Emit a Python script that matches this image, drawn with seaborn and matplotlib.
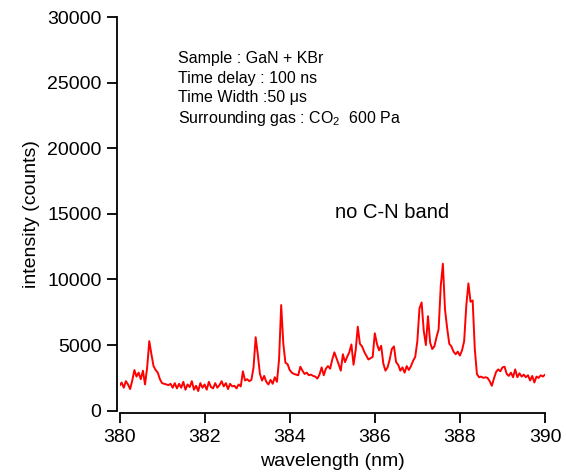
import numpy as np
import pandas as pd
import matplotlib
matplotlib.use("Agg")
import matplotlib.pyplot as plt
import seaborn as sns

# ---- data ----
intensity = [
    1900, 2150, 1750, 2250, 2000, 1650, 2300, 3100, 2600, 2900,   # 380.00-380.45
    2400, 3050, 2000, 3300, 5300, 4300, 3400, 3100, 2900, 2400,   # 380.50-380.95
    2100, 2050, 2000, 1950, 2050, 1750, 2100, 1700, 2050, 1750,   # 381.00-381.45
    2200, 1600, 2000, 1800, 2250, 1600, 1900, 1500, 2100, 1750,   # 381.50-381.95
    2000, 1600, 2200, 1800, 1700, 2100, 1750, 1950, 2250, 1850,   # 382.00-382.45
    2100, 1650, 2050, 1850, 1900, 1700, 2000, 1850, 3000, 2300,   # 382.50-382.95
    2400, 2250, 2350, 3300, 5600, 4300, 2800, 2300, 2650, 2200,   # 383.00-383.45
    2000, 2350, 2050, 2550, 2200, 3900, 8050, 5100, 3650, 3550,   # 383.50-383.95
    3100, 2900, 2800, 2750, 2700, 3350, 3050, 2800, 2900, 2700,   # 384.00-384.45
    2750, 2650, 2600, 2450, 2750, 3300, 2700, 3200, 3400, 3200,   # 384.50-384.95
    3900, 4450, 4000, 3550, 3050, 4300, 3700, 4100, 4450, 5050,   # 385.00-385.45
    3500, 4600, 6400, 5100, 4900, 4500, 4200, 3900, 4000, 4100,   # 385.50-385.95
    5900, 5100, 4600, 4950, 3600, 3050, 3300, 3900, 4700, 4900,   # 386.00-386.45
    3700, 3500, 3050, 3300, 2900, 3400, 3100, 3400, 3800, 4100,   # 386.50-386.95
    5300, 7800, 8250, 6100, 5000, 7200, 5200, 4700, 4900, 5600,   # 387.00-387.45
    6200, 9500, 11200, 7700, 6300, 5100, 4900, 4500, 4300, 4500,  # 387.50-387.95
    4200, 4600, 5300, 8000, 9700, 8300, 8400, 4700, 2800, 2550,   # 388.00-388.45
    2600, 2500, 2550, 2500, 2250, 1900, 2450, 2950, 3150, 3000,   # 388.50-388.95
    3300, 3350, 2800, 2650, 2900, 2550, 3150, 2550, 2850, 2600,   # 389.00-389.45
    2750, 2550, 2700, 2300, 2650, 2150, 2600, 2500, 2700, 2600,   # 389.50-389.95
    2750,                                                         # 390.00
]
wavelength = np.linspace(380.0, 390.0, len(intensity))

x_ticks = [380, 382, 384, 386, 388, 390]
y_ticks = [0, 5000, 10000, 15000, 20000, 25000, 30000]

info_lines = [
    "Sample : GaN + KBr",
    "Time delay : 100 ns",
    "Time Width :50 \u03bcs",
    "Surrounding gas : CO$_2$  600 Pa",
]
note_text = "no C-N band"

df = pd.DataFrame({"wavelength": wavelength, "intensity": intensity})

# ---- style ----
sns.set_theme(style="ticks")
plt.rcParams["font.family"] = ["Liberation Sans", "DejaVu Sans"]
plt.rcParams["mathtext.fontset"] = "custom"
plt.rcParams["mathtext.rm"] = "Liberation Sans"
plt.rcParams["mathtext.it"] = "Liberation Sans:italic"
plt.rcParams["mathtext.bf"] = "Liberation Sans:bold"
plt.rcParams["text.color"] = "black"
plt.rcParams["axes.labelcolor"] = "black"
plt.rcParams["xtick.color"] = "black"
plt.rcParams["ytick.color"] = "black"

W, H = 566, 476
fig = plt.figure(figsize=(W / 100, H / 100), dpi=100)
ax = fig.add_axes([119.5 / W, (H - 410.7) / H, 425.5 / W, 393.7 / H])

sns.lineplot(data=df, x="wavelength", y="intensity", ax=ax,
             color="#ff0000", linewidth=1.4)

ax.set_xlim(380, 390)
ax.set_ylim(0, 30000)
ax.set_xticks(x_ticks)
ax.set_yticks(y_ticks)
ax.set_xticklabels([str(t) for t in x_ticks])
ax.set_yticklabels([str(t) for t in y_ticks])

for side in ["top", "right"]:
    ax.spines[side].set_visible(False)
ax.spines["left"].set_position(("outward", 1.5))
ax.spines["bottom"].set_position(("outward", 1.5))
for side in ["left", "bottom"]:
    ax.spines[side].set_linewidth(1.3)
    ax.spines[side].set_color("black")

ax.tick_params(axis="both", direction="out", length=7.5, width=1.3,
               labelsize=14, colors="black", pad=4)

ax.set_xlabel("wavelength (nm)", fontsize=14, labelpad=5)
ax.set_ylabel("intensity (counts)", fontsize=14, labelpad=5)

for i, line in enumerate(info_lines):
    fig.text(178 / W, 1 - (58 + 20 * i) / H, line, fontsize=11.5,
             va="center", ha="left", color="black")

fig.text(335 / W, 1 - 212 / H, note_text, fontsize=14.5, va="center",
         ha="left", color="black")

fig.savefig("out.png", dpi=100)
